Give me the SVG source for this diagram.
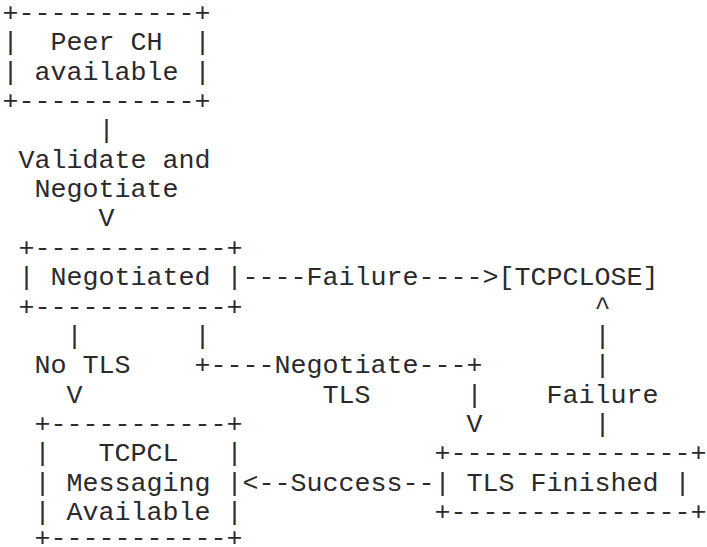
<svg xmlns="http://www.w3.org/2000/svg" width="707" height="547" viewBox="0 0 707 547">
<style>
text{font-family:"Liberation Mono","Courier New",monospace;font-size:26.667px;fill:#2a2a2a;white-space:pre}
</style>
<rect width="707" height="547" fill="#fff"/>
<g transform="translate(-3.5 0)">
<g id="peer">
<text x="6" y="21">+-----------+</text>
<text x="6" y="50.35">|  Peer CH  |</text>
<text x="6" y="79.7">| available |</text>
<text x="6" y="109.05">+-----------+</text>
</g>
<g id="negotiated">
<text x="22" y="255.8">+------------+</text>
<text x="22" y="285.15">| Negotiated |</text>
<text x="22" y="314.5">+------------+</text>
</g>
<g id="tcpclose">
<text x="502" y="285.15">[TCPCLOSE]</text>
</g>
<g id="tcpcl">
<text x="38" y="431.9">+-----------+</text>
<text x="38" y="461.25">|   TCPCL   |</text>
<text x="38" y="490.6">| Messaging |</text>
<text x="38" y="519.95">| Available |</text>
<text x="38" y="546">+-----------+</text>
</g>
<g id="tls">
<text x="438" y="461.25">+---------------+</text>
<text x="438" y="490.6">| TLS Finished |</text>
<text x="438" y="519.95">+---------------+</text>
</g>
<g id="connectors">
<text x="102" y="138.4">|</text>
<text x="22" y="167.75">Validate and</text>
<text x="38" y="197.1">Negotiate</text>
<text x="102" y="226.45">V</text>
<text x="246" y="285.15">----Failure----&gt;</text>
<text x="598" y="314.5">^</text>
<text x="70" y="343.85">|</text>
<text x="198" y="343.85">|</text>
<text x="598" y="343.85">|</text>
<text x="38" y="373.2">No TLS</text>
<text x="198" y="373.2">+----Negotiate---+</text>
<text x="598" y="373.2">|</text>
<text x="70" y="402.55">V</text>
<text x="326" y="402.55">TLS</text>
<text x="470" y="402.55">|</text>
<text x="550" y="402.55">Failure</text>
<text x="470" y="431.9">V</text>
<text x="598" y="431.9">|</text>
<text x="246" y="490.6">&lt;--Success--</text>
</g>
</g>
</svg>
